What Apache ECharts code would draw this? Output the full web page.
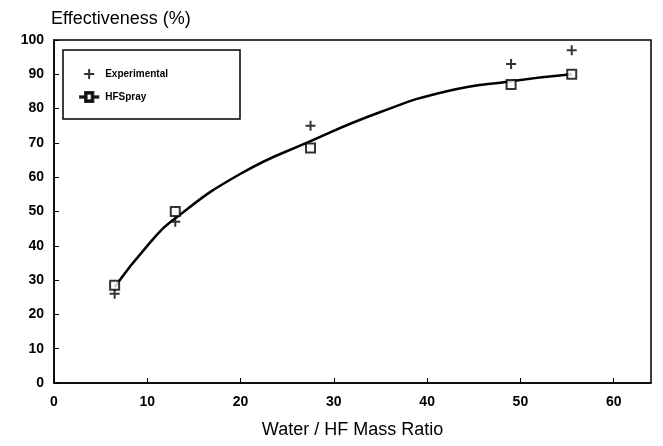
<!DOCTYPE html>
<html>
<head>
<meta charset="utf-8">
<script src="https://cdn.jsdelivr.net/npm/echarts@6/dist/echarts.min.js"></script>
<style>
  html, body { margin: 0; padding: 0; background: #fff; }
  #chart { width: 663px; height: 446px; }
</style>
</head>
<body>
<div id="chart"></div>
<script>
// values
const ratio = [6.5, 13, 27.5, 49, 55.5]
const experimental = [26, 47, 75, 93, 97]
const hfSpray = [28.5, 50, 68.5, 87, 90]
// fitted curve drawn through the model points
const curveX = [6.5, 10, 13, 20, 27.5, 35, 42, 49, 55.5]
const curveY = [28, 40, 48, 61, 70.5, 79, 85, 88, 90]

const plus = 'path://M4,0H6V4H10V6H6V10H4V6H0V4H4Z'
const lineSquare = 'path://M0,9.2H6V4H16V9.2H22V10.8H16V16H6V10.8H0ZM8,6V14H14V6Z'
const font = 'Liberation Sans'

const chart = echarts.init(document.getElementById('chart'))

chart.setOption({
  animation: false,
  textStyle: { fontFamily: font, color: '#000' },
  grid: { left: 54, right: 12, top: 40, bottom: 63, show: true, borderColor: '#000', borderWidth: 1.5 },
  title: {
    text: 'Effectiveness (%)',
    left: 46, top: 5,
    textStyle: { fontFamily: font, fontSize: 18, fontWeight: 'normal', color: '#000' }
  },
  legend: {
    orient: 'vertical',
    left: 74, top: 64,
    itemGap: 12,
    itemWidth: 22, itemHeight: 10,
    textStyle: { fontFamily: font, fontSize: 10, fontWeight: 'bold', color: '#000' },
    data: [
      { name: 'Experimental', icon: plus, itemStyle: { color: '#000' } },
      { name: 'HFSpray', icon: lineSquare, itemStyle: { color: '#000' } }
    ]
  },
  graphic: [{
    type: 'rect',
    shape: { x: 63, y: 50, width: 177, height: 69 },
    style: { fill: 'none', stroke: '#000', lineWidth: 1.5 }
  }],
  xAxis: {
    type: 'value', min: 0, max: 64, interval: 10,
    name: 'Water / HF Mass Ratio',
    nameLocation: 'middle', nameGap: 38,
    nameTextStyle: { fontFamily: font, fontSize: 18, color: '#000' },
    axisLine: { lineStyle: { color: '#000', width: 1.5 } },
    axisTick: { inside: true, length: 5, lineStyle: { color: '#000' } },
    axisLabel: { fontSize: 14, fontWeight: 'bold', color: '#000', margin: 12, showMaxLabel: false },
    splitLine: { show: false }
  },
  yAxis: {
    type: 'value', min: 0, max: 100, interval: 10,
    axisLine: { lineStyle: { color: '#000', width: 1.5 } },
    axisTick: { show: true, inside: true, length: 5, lineStyle: { color: '#000' } },
    axisLabel: { fontSize: 14, fontWeight: 'bold', color: '#000', margin: 10 },
    splitLine: { show: false }
  },
  series: [
    {
      name: 'curve',
      type: 'line',
      smooth: true,
      showSymbol: false,
      silent: true,
      lineStyle: { color: '#000', width: 2.5 },
      data: curveX.map((x, i) => [x, curveY[i]])
    },
    {
      name: 'Experimental',
      type: 'scatter',
      symbol: plus,
      symbolSize: 10,
      itemStyle: { color: '#000' },
      data: ratio.map((x, i) => [x, experimental[i]])
    },
    {
      name: 'HFSpray',
      type: 'scatter',
      symbol: 'rect',
      symbolSize: 9,
      itemStyle: { color: '#fff', borderColor: '#000', borderWidth: 2 },
      z: 3,
      data: ratio.map((x, i) => [x, hfSpray[i]])
    }
  ]
})
</script>
</body>
</html>
